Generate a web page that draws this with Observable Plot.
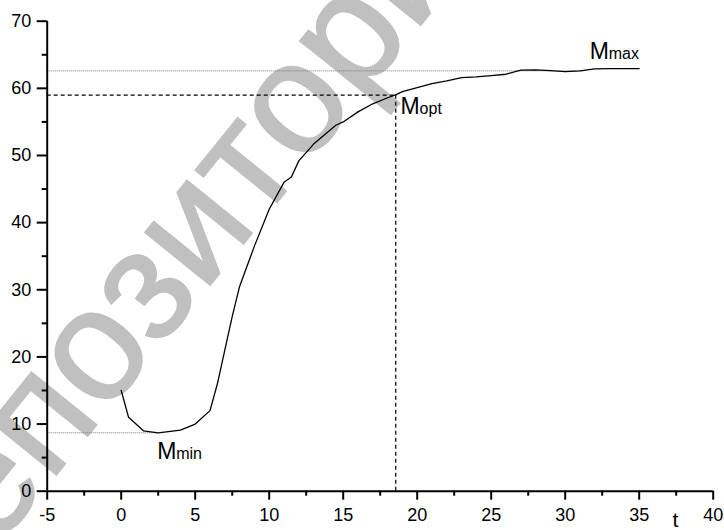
<!DOCTYPE html>
<html><head><meta charset="utf-8">
<script src="https://cdn.jsdelivr.net/npm/d3@7"></script>
<script src="https://cdn.jsdelivr.net/npm/@observablehq/plot@0.6"></script>
<style>
body{margin:0;background:#fff}
#chart{position:relative;width:724px;height:530px;overflow:hidden}
</style>
</head><body><div id="chart"></div>
<script>
// ---- data ----
const tValues = [0, 0.5, 1.5, 2.5, 4, 5, 6, 6.5, 7, 7.5, 8, 9, 10, 11, 11.5, 12, 13, 14.5, 15, 16, 17, 18, 18.5, 19, 20, 21, 22, 23, 24, 25, 26, 27, 28, 29, 30, 31, 32, 33, 34, 35];
const mValues = [15.0, 11.0, 9.0, 8.7, 9.1, 10.0, 12.0, 16.0, 21.0, 26.0, 30.5, 36.5, 42.0, 46.0, 46.8, 49.2, 51.7, 54.5, 55.0, 56.5, 57.7, 58.6, 59.0, 59.5, 60.1, 60.7, 61.1, 61.6, 61.7, 61.9, 62.1, 62.7, 62.75, 62.65, 62.5, 62.6, 62.9, 62.95, 62.95, 62.95];

const xMajorTicks = [-5, 0, 5, 10, 15, 20, 25, 30, 35, 40];
const xMinorTicks = [-2.5, 2.5, 7.5, 12.5, 17.5, 22.5, 27.5, 32.5, 37.5];
const yMajorTicks = [0, 10, 20, 30, 40, 50, 60, 70];
const yMinorTicks = [5, 15, 25, 35, 45, 55, 65];

const levelMin = 8.7, levelOpt = 59, levelMax = 62.6;
const tMinEnd = 2.5, tOpt = 18.55, tMaxEnd = 31.3;

const labelBase = ["M", "M", "M"];
const labelSub = ["min", "opt", "max"];
const labelT = [2.43, 18.88, 31.66];
const labelM = [4.87, 56.25, 64.35];

const axisTitleX = "t";
const axisTitleT = 37.45;
const watermark = "репозиторий";

// ---- build ----
const data = tValues.map((t, i) => ({t, m: mValues[i]}));
const labels = labelBase.map((b, i) => ({base: b, sub: labelSub[i], t: labelT[i], m: labelM[i]}));
const fmt = d => String(d);

const plot = Plot.plot({
  width: 724,
  height: 530,
  marginLeft: 46.7,
  marginRight: 11.3,
  marginTop: 20.7,
  marginBottom: 39.3,
  style: {fontFamily: "'Liberation Sans', Arial, sans-serif", background: "transparent", overflow: "visible"},
  x: {domain: [-5, 40]},
  y: {domain: [0, 70]},
  marks: [
    Plot.ruleY([levelMax], {x1: -5, x2: tMaxEnd, stroke: "#777", strokeWidth: 1, strokeDasharray: "1,1"}),
    Plot.ruleY([levelMin], {x1: -5, x2: tMinEnd, stroke: "#777", strokeWidth: 1, strokeDasharray: "1,1"}),
    Plot.ruleY([levelOpt], {x1: -5, x2: tOpt, stroke: "#000", strokeWidth: 1.2, strokeDasharray: "4,3"}),
    Plot.ruleX([tOpt], {y1: 0, y2: levelOpt, stroke: "#000", strokeWidth: 1.2, strokeDasharray: "4,3"}),
    Plot.line(data, {x: "t", y: "m", stroke: "#000", strokeWidth: 1.3}),
    Plot.axisX({ticks: xMajorTicks, tickSize: 9, tickPadding: 8, fontSize: 18, tickFormat: fmt, label: null, strokeWidth: 2}),
    Plot.axisX({ticks: xMinorTicks, tickSize: 5, tickFormat: () => "", label: null, strokeWidth: 2}),
    Plot.axisY({ticks: yMajorTicks, tickSize: 10, tickPadding: 6, fontSize: 18, tickFormat: fmt, label: null, strokeWidth: 2}),
    Plot.axisY({ticks: yMinorTicks, tickSize: 5, tickFormat: () => "", label: null, strokeWidth: 2}),
    Plot.ruleX([-5], {stroke: "#000", strokeWidth: 2}),
    Plot.ruleY([0], {stroke: "#000", strokeWidth: 2}),
    Plot.text(labels, {x: "t", y: "m", text: "base", textAnchor: "start", lineAnchor: "bottom", fontSize: 23}),
    Plot.text(labels, {x: "t", y: "m", text: "sub", textAnchor: "start", lineAnchor: "bottom", fontSize: 16, dx: 19}),
    Plot.text([axisTitleX], {x: axisTitleT, frameAnchor: "bottom", text: d => d, dy: 36, lineAnchor: "bottom", fontSize: 21})
  ]
});

// watermark behind marks
d3.select(plot).insert("text", "g")
  .attr("transform", "translate(200,232) rotate(-51)")
  .attr("text-anchor", "middle")
  .attr("dy", "0.26em")
  .attr("fill", "#c0c0c0")
  .attr("stroke", "#c0c0c0")
  .attr("stroke-width", 2)
  .attr("font-size", 158)
  .attr("font-family", "'Liberation Sans', Arial, sans-serif")
  .text(watermark);

document.getElementById("chart").appendChild(plot);
</script>
</body></html>
